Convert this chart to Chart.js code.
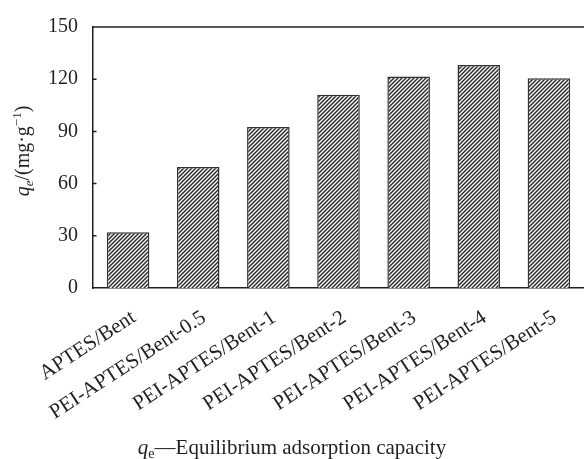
<!DOCTYPE html>
<html>
<head>
<meta charset="utf-8">
<script src="https://cdn.jsdelivr.net/npm/chart.js@4.4.1/dist/chart.umd.min.js"></script>
<style>
html,body{margin:0;padding:0;background:#fff;}
#wrap{width:584px;height:459px;}
</style>
</head>
<body>
<div id="wrap"><canvas id="c" width="584" height="459"></canvas></div>
<script>
const categories = ["APTES/Bent","PEI-APTES/Bent-0.5","PEI-APTES/Bent-1","PEI-APTES/Bent-2","PEI-APTES/Bent-3","PEI-APTES/Bent-4","PEI-APTES/Bent-5"];
const qeValues = [32, 69.5, 92.5, 111, 121.5, 128.2, 120.6];
const yTicks = [0, 30, 60, 90, 120, 150];

const SERIF = '"Liberation Serif","Times New Roman",serif';
const INK = '#231f20';

function makePattern(){
  const t = document.createElement('canvas');
  t.width = 4; t.height = 4;
  const g = t.getContext('2d');
  g.fillStyle = '#fff'; g.fillRect(0,0,4,4);
  g.strokeStyle = '#2a2a2a'; g.lineWidth = 1.5;
  g.beginPath();
  g.moveTo(-1,1); g.lineTo(1,-1);
  g.moveTo(0,4); g.lineTo(4,0);
  g.moveTo(3,5); g.lineTo(5,3);
  g.stroke();
  return document.getElementById('c').getContext('2d').createPattern(t,'repeat');
}

const decor = {
  id:'decor',
  afterDraw(chart){
    const ctx = chart.ctx, a = chart.chartArea, y = chart.scales.y, x = chart.scales.x;
    ctx.save();
    ctx.strokeStyle = INK; ctx.lineWidth = 1.5;
    // top frame line
    ctx.beginPath(); ctx.moveTo(a.left, a.top); ctx.lineTo(a.right, a.top); ctx.stroke();
    // inward ticks
    ctx.beginPath();
    yTicks.forEach(v=>{ if(v>0 && v<150){ const p=y.getPixelForValue(v); ctx.moveTo(a.left, p); ctx.lineTo(a.left+3.5, p);} });
    ctx.stroke();
    // x labels
    ctx.fillStyle = INK;
    ctx.font = '21px ' + SERIF;
    ctx.textAlign = 'right'; ctx.textBaseline = 'top';
    categories.forEach((c,i)=>{
      const px = x.getPixelForTick(i);
      ctx.save();
      ctx.translate(px, a.bottom+19);
      ctx.rotate(-33*Math.PI/180);
      ctx.fillText(c, 0, 0);
      ctx.restore();
    });
    // y title
    ctx.save();
    ctx.translate(29, 151);
    ctx.rotate(-Math.PI/2);
    const parts = [
      {t:'q', f:'italic 20px '+SERIF, dy:0},
      {t:'e', f:'italic 13px '+SERIF, dy:4},
      {t:'/(mg\u00b7g', f:'20px '+SERIF, dy:0},
      {t:'\u22121', f:'13px '+SERIF, dy:-8},
      {t:')', f:'20px '+SERIF, dy:0}
    ];
    let w = 0;
    parts.forEach(p=>{ ctx.font=p.f; p.w=ctx.measureText(p.t).width; w+=p.w; });
    let cx = -w/2;
    ctx.textAlign='left'; ctx.textBaseline='alphabetic';
    parts.forEach(p=>{ ctx.font=p.f; ctx.fillText(p.t, cx, p.dy); cx+=p.w; });
    ctx.restore();
    // caption
    const cap = [
      {t:'q', f:'italic 21px '+SERIF, dy:0},
      {t:'e', f:'14px '+SERIF, dy:4},
      {t:'\u2014Equilibrium adsorption capacity', f:'21px '+SERIF, dy:0}
    ];
    w = 0;
    cap.forEach(p=>{ ctx.font=p.f; p.w=ctx.measureText(p.t).width; w+=p.w; });
    cx = 292 - w/2;
    ctx.textAlign='left'; ctx.textBaseline='alphabetic';
    cap.forEach(p=>{ ctx.font=p.f; ctx.fillText(p.t, cx, 454+p.dy); cx+=p.w; });
    ctx.restore();
  }
};

new Chart(document.getElementById('c'), {
  type:'bar',
  data:{
    labels: categories,
    datasets:[{
      data: qeValues,
      backgroundColor: makePattern(),
      borderColor: '#333',
      borderWidth: 1.5,
      barPercentage: 0.607,
      categoryPercentage: 1
    }]
  },
  options:{
    responsive:false,
    animation:false,
    devicePixelRatio:1,
    layout:{padding:{top:22,left:0,right:0,bottom:0}},
    plugins:{legend:{display:false}, tooltip:{enabled:false}},
    scales:{
      x:{
        grid:{display:false, drawTicks:false},
        border:{display:true, color:INK, width:1.5},
        ticks:{display:false},
        afterFit(s){ s.height = 171; }
      },
      y:{
        min:0, max:150,
        afterBuildTicks(s){ s.ticks = yTicks.map(v=>({value:v})); },
        grid:{display:false, drawTicks:false},
        border:{display:true, color:INK, width:1.5},
        ticks:{color:INK, padding:15, font:{family:SERIF, size:20}},
        afterFit(s){ s.width = 93; }
      }
    }
  },
  plugins:[decor]
});
</script>
</body>
</html>
